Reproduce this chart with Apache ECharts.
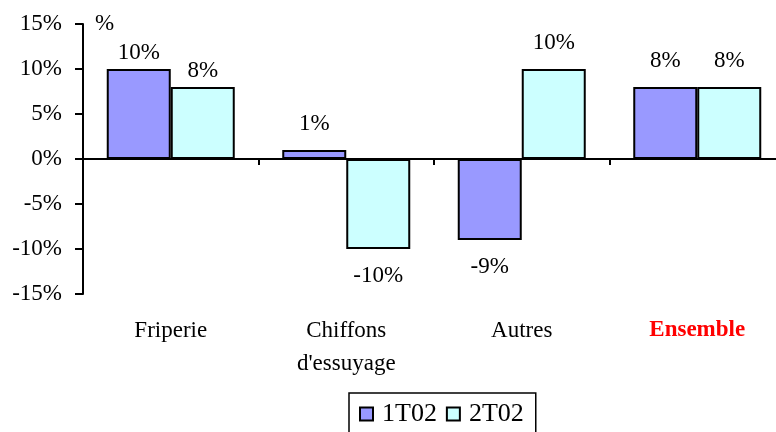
<!DOCTYPE html>
<html>
<head>
<meta charset="utf-8">
<script src="https://cdn.jsdelivr.net/npm/echarts@6/dist/echarts.min.js"></script>
<style>
  html, body { margin: 0; padding: 0; background: #fff; }
  #chart { width: 776px; height: 432px; }
</style>
</head>
<body>
<div id="chart"></div>
<script>
// catégories et valeurs (%)
const categories = ['Friperie', 'Chiffons\nd\'essuyage', 'Autres', 'Ensemble']
const serie1T02 = [10, 1, -9, 8]
const serie2T02 = [8, -10, 10, 8]
const seriesNames = ['1T02', '2T02']
const yTicks = { min: -15, max: 15, step: 5 }

const font = 'Liberation Serif'
const fontSize = 23

// étiquettes au-dessus / en dessous de la barre
function buildData(values) {
  return values.map((v, i) => ({
    value: v,
    label: {
      position: v < 0 ? 'bottom' : 'top',
      distance: i === 0 ? 5 : 15
    }
  }))
}

let chart = echarts.init(document.getElementById('chart'))
chart.setOption({
  animation: false,
  textStyle: { fontFamily: font },
  grid: {
    left: 83,
    right: -9,
    top: 24,
    bottom: 138,
    outerBoundsMode: 'none'
  },
  legend: {
    top: 393,
    left: 349,
    itemWidth: 13,
    itemHeight: 13,
    itemGap: 9,
    icon: 'rect',
    borderColor: '#000',
    borderWidth: 1.5,
    padding: [8, 12, 20, 10],
    textStyle: { fontFamily: font, fontSize: 26, color: '#000', padding: [0, 0, 0, 4] },
    data: seriesNames
  },
  xAxis: [{
    // ligne du zéro avec les graduations
    type: 'category',
    data: categories,
    axisLine: { onZero: true, lineStyle: { color: '#000', width: 2 } },
    axisTick: { show: true, inside: false, length: 6, lineStyle: { color: '#000', width: 2 } },
    axisLabel: { show: false },
    splitLine: { show: false }
  }, {
    // libellés des catégories en bas
    type: 'category',
    position: 'bottom',
    data: categories.map((c, i) => i === categories.length - 1
      ? { value: c, textStyle: { color: '#ff0000', fontWeight: 'bold' } }
      : c),
    axisLine: { show: false, onZero: false },
    axisTick: { show: false },
    axisLabel: {
      margin: 20,
      color: '#000',
      fontFamily: font,
      fontSize: fontSize,
      lineHeight: 33,
      verticalAlign: 'top'
    },
    splitLine: { show: false }
  }],
  yAxis: {
    type: 'value',
    min: yTicks.min,
    max: yTicks.max,
    interval: yTicks.step,
    name: '%',
    nameLocation: 'end',
    nameGap: 0,
    nameTextStyle: {
      color: '#000',
      fontFamily: font,
      fontSize: fontSize,
      align: 'left',
      verticalAlign: 'middle',
      padding: [0, 0, 0, 12]
    },
    axisLine: { show: true, lineStyle: { color: '#000', width: 2 } },
    axisTick: { show: true, length: 8, lineStyle: { color: '#000', width: 2 } },
    axisLabel: {
      margin: 21,
      color: '#000',
      fontFamily: font,
      fontSize: fontSize,
      formatter: '{value}%'
    },
    splitLine: { show: false }
  },
  series: [{
    name: seriesNames[0],
    type: 'bar',
    xAxisIndex: 0,
    barWidth: 64,
    barGap: '0%',
    data: buildData(serie1T02),
    itemStyle: { color: '#9999ff', borderColor: '#000', borderWidth: 2 },
    label: {
      show: true,
      color: '#000',
      fontFamily: font,
      fontSize: fontSize,
      formatter: '{c}%'
    }
  }, {
    name: seriesNames[1],
    type: 'bar',
    xAxisIndex: 0,
    barWidth: 64,
    barGap: '0%',
    data: buildData(serie2T02),
    itemStyle: { color: '#ccffff', borderColor: '#000', borderWidth: 2 },
    label: {
      show: true,
      color: '#000',
      fontFamily: font,
      fontSize: fontSize,
      formatter: '{c}%'
    }
  }]
})
</script>
</body>
</html>
